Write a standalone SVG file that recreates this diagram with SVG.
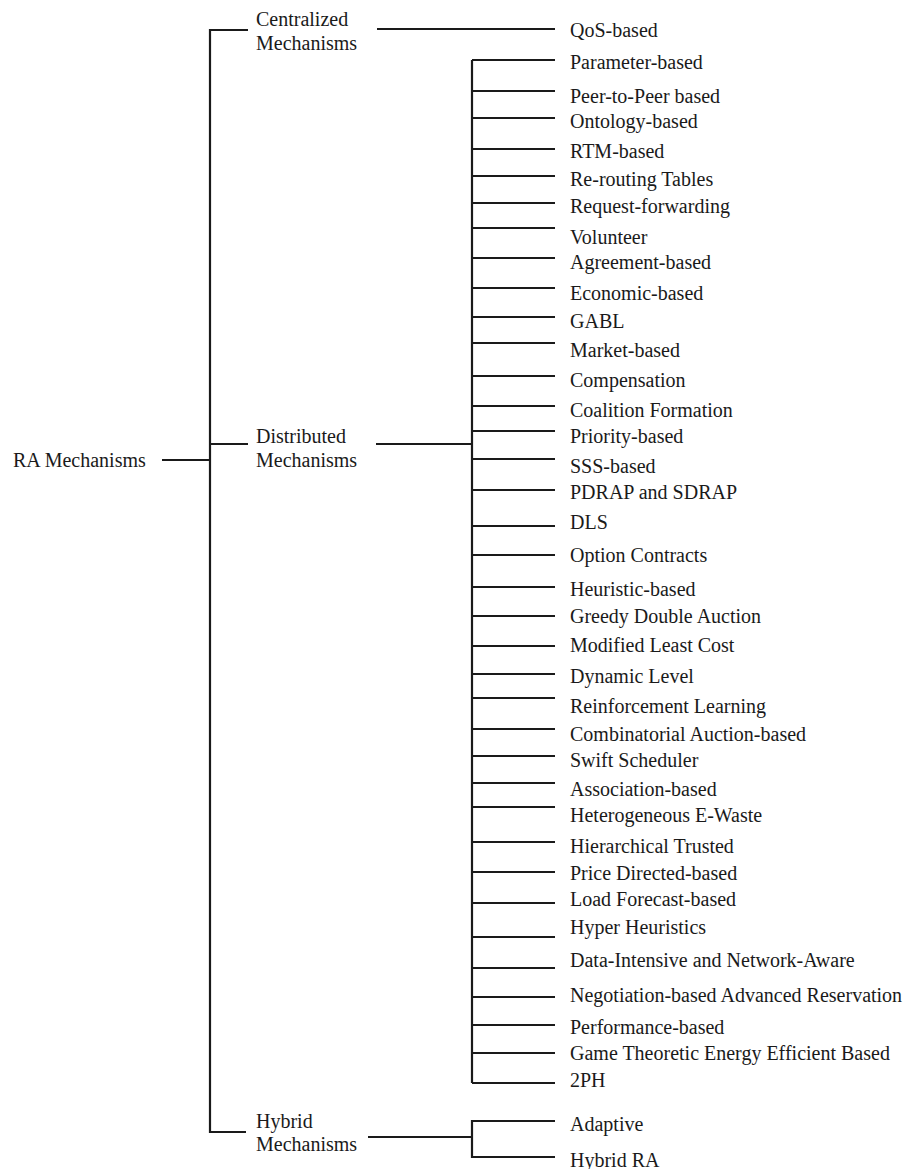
<svg xmlns="http://www.w3.org/2000/svg" width="918" height="1169" viewBox="0 0 918 1169">
<style>
text{font-family:"Liberation Serif","Times New Roman",serif;font-size:20px;fill:#1a1a1a}
.c{fill:none;stroke:#1a1a1a;stroke-width:2.2}
</style>
<rect width="918" height="1169" fill="#fff"/>
<g id="connectors" class="c">
<path d="M162 460H210M248 30H210V1132H246M210 444H248"/>
<path d="M377 29H555"/>
<path d="M376 444H472M472 60V1083"/>
<path d="M472 60H555M472 91H555M472 118H555M472 149H555M472 176H555M472 203H555M472 228H555M472 258H555M472 288H555M472 317H555M472 343H555M472 376H555M472 406H555M472 431H555M472 459H555M472 490H555M472 526H555M472 555H555M472 587H555M472 616H555M472 646H555M472 674H555M472 698H555M472 729H555M472 756H555M472 783H555M472 807H555M472 842H555M472 872H555M472 903H555M472 937H555M472 968H555M472 997H555M472 1025H555M472 1053H555M472 1083H555"/>
<path d="M368 1137H472M555 1121H472V1157H555"/>
</g>
<g id="root"><text x="13" y="467">RA Mechanisms</text></g>
<g id="centralized"><text x="256" y="26">Centralized</text><text x="256" y="50">Mechanisms</text></g>
<g id="distributed"><text x="256" y="443">Distributed</text><text x="256" y="467">Mechanisms</text></g>
<g id="hybrid"><text x="256" y="1128">Hybrid</text><text x="256" y="1151">Mechanisms</text></g>
<g id="leaves">
<g id="n-qos"><text x="570" y="37">QoS-based</text></g>
<g id="n-parameter"><text x="570" y="69">Parameter-based</text></g>
<g id="n-p2p"><text x="570" y="103">Peer-to-Peer based</text></g>
<g id="n-ontology"><text x="570" y="128">Ontology-based</text></g>
<g id="n-rtm"><text x="570" y="158">RTM-based</text></g>
<g id="n-rerouting"><text x="570" y="186">Re-routing Tables</text></g>
<g id="n-request"><text x="570" y="213">Request-forwarding</text></g>
<g id="n-volunteer"><text x="570" y="244">Volunteer</text></g>
<g id="n-agreement"><text x="570" y="269">Agreement-based</text></g>
<g id="n-economic"><text x="570" y="300">Economic-based</text></g>
<g id="n-gabl"><text x="570" y="328">GABL</text></g>
<g id="n-market"><text x="570" y="357">Market-based</text></g>
<g id="n-compensation"><text x="570" y="387">Compensation</text></g>
<g id="n-coalition"><text x="570" y="417">Coalition Formation</text></g>
<g id="n-priority"><text x="570" y="443">Priority-based</text></g>
<g id="n-sss"><text x="570" y="473">SSS-based</text></g>
<g id="n-pdrap"><text x="570" y="499">PDRAP and SDRAP</text></g>
<g id="n-dls"><text x="570" y="529">DLS</text></g>
<g id="n-option"><text x="570" y="562">Option Contracts</text></g>
<g id="n-heuristic"><text x="570" y="596">Heuristic-based</text></g>
<g id="n-greedy"><text x="570" y="623">Greedy Double Auction</text></g>
<g id="n-modified"><text x="570" y="652">Modified Least Cost</text></g>
<g id="n-dynamic"><text x="570" y="683">Dynamic Level</text></g>
<g id="n-reinforcement"><text x="570" y="713">Reinforcement Learning</text></g>
<g id="n-combinatorial"><text x="570" y="741">Combinatorial Auction-based</text></g>
<g id="n-swift"><text x="570" y="767">Swift Scheduler</text></g>
<g id="n-association"><text x="570" y="796">Association-based</text></g>
<g id="n-ewaste"><text x="570" y="822">Heterogeneous E-Waste</text></g>
<g id="n-hierarchical"><text x="570" y="853">Hierarchical Trusted</text></g>
<g id="n-price"><text x="570" y="880">Price Directed-based</text></g>
<g id="n-load"><text x="570" y="906">Load Forecast-based</text></g>
<g id="n-hyper"><text x="570" y="934">Hyper Heuristics</text></g>
<g id="n-data"><text x="570" y="967">Data-Intensive and Network-Aware</text></g>
<g id="n-negotiation"><text x="570" y="1002">Negotiation-based Advanced Reservation</text></g>
<g id="n-performance"><text x="570" y="1034">Performance-based</text></g>
<g id="n-game"><text x="570" y="1060">Game Theoretic Energy Efficient Based</text></g>
<g id="n-2ph"><text x="570" y="1087">2PH</text></g>
<g id="n-adaptive"><text x="570" y="1131">Adaptive</text></g>
<g id="n-hybridra"><text x="570" y="1167">Hybrid RA</text></g>
</g>
</svg>
